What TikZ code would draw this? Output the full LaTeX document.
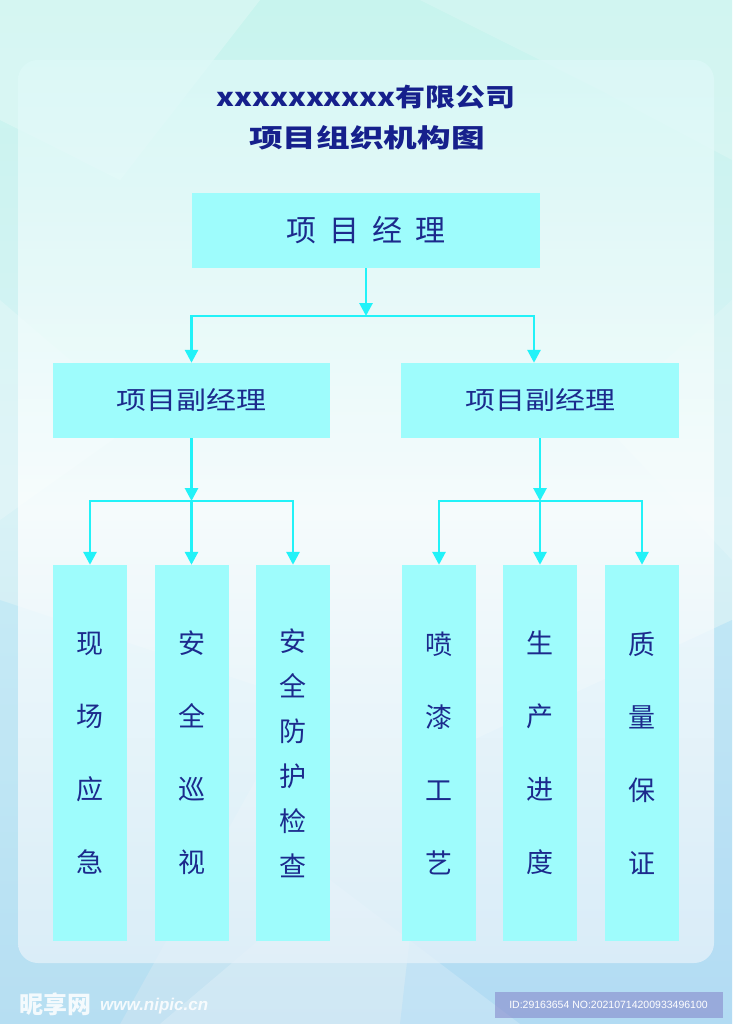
\documentclass[tikz,border=0pt]{standalone}
\usepackage{fontspec}
\setmainfont{Liberation Sans}
\newfontfamily\cjk{Noto Sans CJK SC}
\usetikzlibrary{arrows.meta}
\definecolor{boxc}{HTML}{9EFCFC}
\definecolor{txt}{HTML}{1C2A8C}
\definecolor{arrc}{HTML}{22F2F8}
\definecolor{titlec}{HTML}{16208C}
\definecolor{bgtop}{HTML}{C8F4EE}
\definecolor{bgmid}{HTML}{D8F2F6}
\definecolor{bgbot}{HTML}{C4E2F2}
\definecolor{pantop}{HTML}{DDF9F8}
\definecolor{panbot}{HTML}{E6F2FA}
\tikzset{
  box/.style={fill=boxc, draw=none, inner sep=0pt, text=txt},
  vbox/.style={box, minimum width=74pt, minimum height=376pt, align=center,
    font=\cjk\fontsize{27}{73}\selectfont},
  vboxd/.style={box, minimum width=74pt, minimum height=376pt, align=center,
    font=\cjk\fontsize{27}{45}\selectfont},
  arr/.style={draw=arrc, line width=2.8pt, -{Triangle[width=13pt,length=13pt]}},
  facet/.style={fill=white, opacity=#1},
}
\begin{document}
\begin{tikzpicture}[x=1pt,y=-1pt]
\useasboundingbox (0,0) rectangle (732,1024);
% background
\shade[top color=bgtop, bottom color=bgbot, middle color=bgmid] (0,0) rectangle (732,1024);
\fill[facet=0.25] (0,0) -- (260,0) -- (120,180) -- (0,120) -- cycle;
\fill[facet=0.18] (420,0) -- (732,0) -- (732,160) -- (600,90) -- cycle;
\fill[facet=0.2] (0,300) -- (140,420) -- (0,520) -- cycle;
\fill[facet=0.15] (732,300) -- (600,420) -- (732,560) -- cycle;
\fill[blue!30!cyan, opacity=0.07] (0,600) -- (300,700) -- (120,1024) -- (0,1024) -- cycle;
\fill[blue!40!cyan, opacity=0.09] (430,760) -- (732,620) -- (732,1024) -- (400,1024) -- cycle;
\fill[facet=0.2] (160,1024) -- (330,880) -- (520,1024) -- cycle;
% panel
\shade[top color=pantop, bottom color=panbot, middle color=white, opacity=0.75,
  rounded corners=20pt] (18,60) rectangle (714,963);
% title
\node[text=titlec, inner sep=0pt] (t1) at (366,97)
  {\scalebox{1.2}[1]{\cjk\bfseries\fontsize{25}{25}\selectfont xxxxxxxxxx有限公司}};
\node[text=titlec, inner sep=0pt] (t2) at (367,138)
  {\scalebox{1.32}[1]{\cjk\bfseries\fontsize{25.5}{25.5}\selectfont 项目组织机构图}};
% boxes
\node[box, minimum width=348pt, minimum height=75pt,
  font=\cjk\fontsize{30}{30}\selectfont] (top) at (366,230.5)
  {项\hspace{13pt}目\hspace{13pt}经\hspace{13pt}理};
\node[box, minimum width=277pt, minimum height=75pt] (mL) at (191.5,400.5)
  {\scalebox{1.2}[1]{\cjk\fontsize{25}{25}\selectfont 项目副经理}};
\node[box, minimum width=278pt, minimum height=75pt] (mR) at (540,400.5)
  {\scalebox{1.2}[1]{\cjk\fontsize{25}{25}\selectfont 项目副经理}};
\node[vbox] (b1) at (90,753) {现\\场\\应\\急};
\node[vbox] (b2) at (191.5,753) {安\\全\\巡\\视};
\node[vboxd] (b3) at (293,753) {安\\全\\防\\护\\检\\查};
\node[vbox] (b4) at (439,753) {喷\\漆\\工\\艺};
\node[vbox] (b5) at (540,753) {生\\产\\进\\度};
\node[vbox] (b6) at (642,753) {质\\量\\保\\证};
% junctions
\coordinate (j1) at (366,316);
\coordinate (j2) at (191.5,501);
\coordinate (j3) at (540,501);
% connectors
\draw[arr] (top.south) -- (j1);
\draw[arr] (j1) -| (mL.north);
\draw[arr] (j1) -| ([xshift=-6pt]mR.north);
\draw[arr] (mL.south) -- (j2);
\draw[arr] (j2) -| (b1.north);
\draw[arr] (j2) -- (b2.north);
\draw[arr] (j2) -| (b3.north);
\draw[arr] (mR.south) -- (j3);
\draw[arr] (j3) -| (b4.north);
\draw[arr] (j3) -- (b5.north);
\draw[arr] (j3) -| (b6.north);
% watermark
\node[text=white, opacity=0.85, inner sep=0pt] (wm1) at (55,1004)
  {\cjk\bfseries\fontsize{24}{24}\selectfont\itshape 昵享网};
\node[text=white, opacity=0.85, inner sep=0pt, anchor=west] (wm2) at (100,1006)
  {\bfseries\itshape\fontsize{17}{17}\selectfont www.nipic.cn};
\node[fill=gray!60!blue!70, fill opacity=0.55, text=white, text opacity=1,
  minimum width=228pt, minimum height=26pt, inner sep=0pt] (id) at (608.5,1004.5)
  {\fontsize{10.5}{10.5}\selectfont ID:29163654 NO:20210714200933496100};
\end{tikzpicture}
\end{document}
